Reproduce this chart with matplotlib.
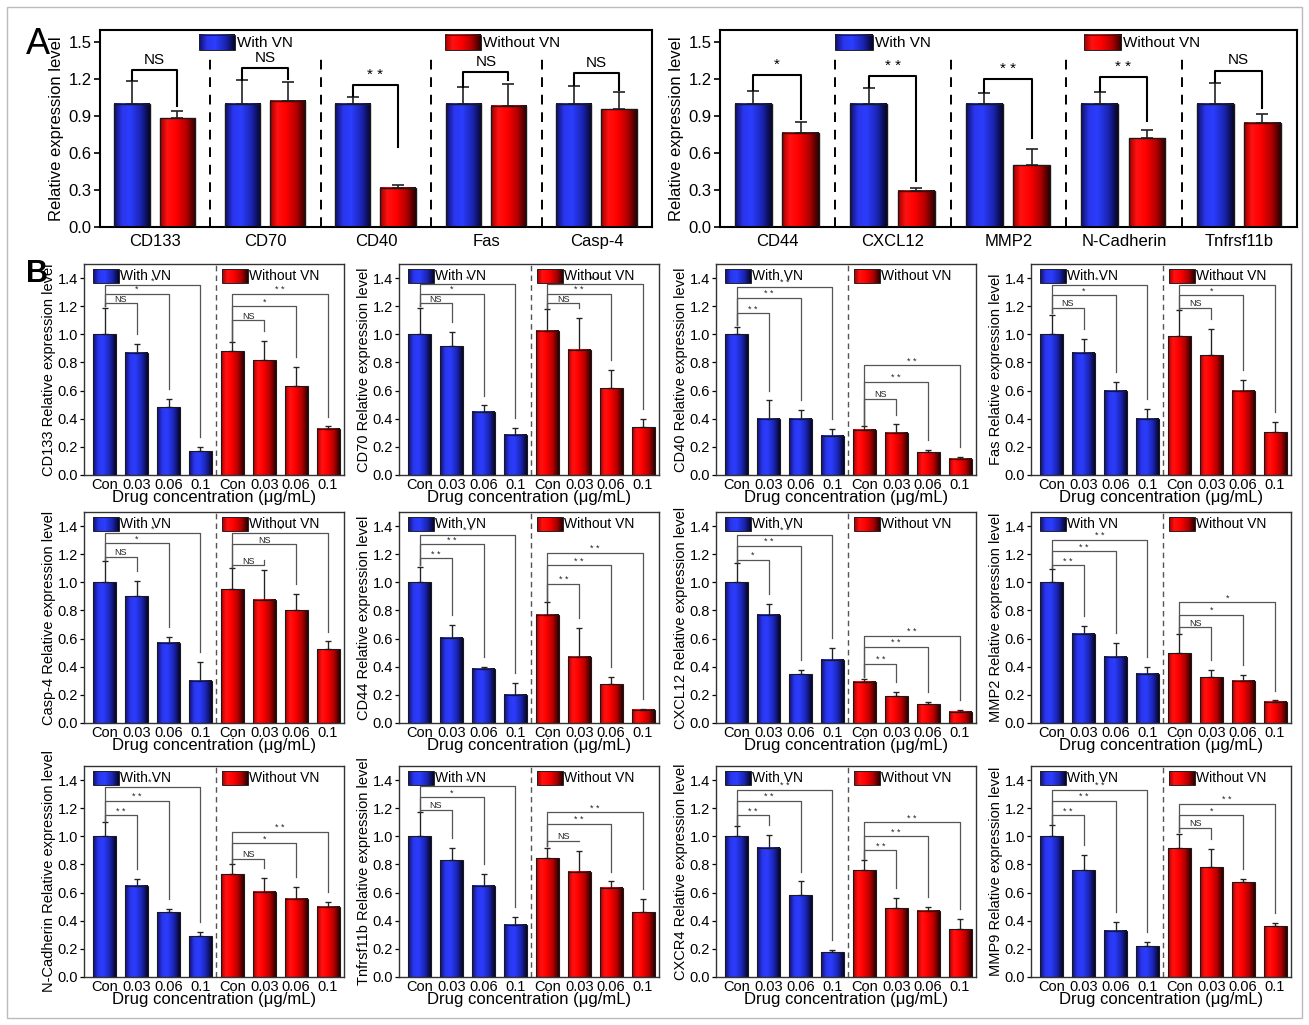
import numpy as np
import matplotlib
matplotlib.use("Agg")
import matplotlib.pyplot as plt
from matplotlib.colors import LinearSegmentedColormap
from matplotlib.patches import Rectangle

plt.rcParams['font.family'] = ['Liberation Sans', 'DejaVu Sans']

W, H = 1309, 1025

# ---------------- panel A ----------------
genes_a_left = ["CD133", "CD70", "CD40", "Fas", "Casp-4"]
with_a_left = [1.0, 1.0, 1.0, 1.0, 1.0]
with_a_left_top = [1.185, 1.19, 1.055, 1.135, 1.145]
without_a_left = [0.885, 1.025, 0.32, 0.985, 0.955]
without_a_left_top = [0.94, 1.18, 0.345, 1.165, 1.095]
sig_a_left = ["NS", "NS", "* *", "NS", "NS"]
sig_a_left_y = [1.276, 1.29, 1.15, 1.257, 1.25]
sig_a_left_end = [0.98, 1.2, 0.65, 1.19, 1.11]

genes_a_right = ["CD44", "CXCL12", "MMP2", "N-Cadherin", "Tnfrsf11b"]
with_a_right = [1.0, 1.0, 1.0, 1.0, 1.0]
with_a_right_top = [1.105, 1.13, 1.09, 1.1, 1.17]
without_a_right = [0.765, 0.295, 0.5, 0.72, 0.845]
without_a_right_top = [0.855, 0.315, 0.63, 0.79, 0.915]
sig_a_right = ["*", "* *", "* *", "* *", "NS"]
sig_a_right_y = [1.236, 1.228, 1.2, 1.215, 1.27]
sig_a_right_end = [0.88, 0.37, 0.72, 0.86, 0.97]

# ---------------- panel B ----------------
conc_labels = ["Con", "0.03", "0.06", "0.1", "Con", "0.03", "0.06", "0.1"]
b_genes = ["CD133", "CD70", "CD40", "Fas",
           "Casp-4", "CD44", "CXCL12", "MMP2",
           "N-Cadherin", "Tnfrsf11b", "CXCR4", "MMP9"]
b_with = [[1.0, 0.87, 0.48, 0.17], [1.0, 0.915, 0.45, 0.285], [1.0, 0.4, 0.4, 0.28], [1.0, 0.87, 0.6, 0.4],
          [1.0, 0.9, 0.57, 0.3], [1.0, 0.605, 0.385, 0.2], [1.0, 0.77, 0.345, 0.45], [1.0, 0.635, 0.47, 0.35],
          [1.0, 0.65, 0.46, 0.29], [1.0, 0.83, 0.65, 0.37], [1.0, 0.92, 0.58, 0.175], [1.0, 0.76, 0.33, 0.22]]
b_with_top = [[1.19, 0.93, 0.54, 0.2], [1.19, 1.02, 0.495, 0.335], [1.055, 0.53, 0.465, 0.33], [1.14, 0.965, 0.66, 0.47],
              [1.15, 1.01, 0.61, 0.435], [1.11, 0.7, 0.4, 0.285], [1.135, 0.845, 0.375, 0.535], [1.095, 0.69, 0.57, 0.4],
              [1.1, 0.695, 0.485, 0.32], [1.17, 0.92, 0.73, 0.43], [1.07, 1.01, 0.68, 0.19], [1.08, 0.87, 0.39, 0.25]]
b_without = [[0.88, 0.815, 0.63, 0.33], [1.025, 0.89, 0.615, 0.34], [0.32, 0.3, 0.16, 0.115], [0.985, 0.85, 0.6, 0.305],
             [0.95, 0.875, 0.8, 0.525], [0.77, 0.47, 0.275, 0.095], [0.295, 0.19, 0.135, 0.08], [0.495, 0.325, 0.3, 0.152],
             [0.73, 0.605, 0.555, 0.5], [0.845, 0.75, 0.635, 0.46], [0.76, 0.49, 0.47, 0.34], [0.915, 0.78, 0.675, 0.36]]
b_without_top = [[0.945, 0.955, 0.77, 0.345], [1.18, 1.115, 0.75, 0.4], [0.345, 0.36, 0.18, 0.13], [1.17, 1.04, 0.675, 0.38],
                 [1.1, 1.09, 0.92, 0.58], [0.86, 0.675, 0.325, 0.1], [0.315, 0.22, 0.15, 0.09], [0.63, 0.38, 0.34, 0.16],
                 [0.8, 0.705, 0.64, 0.535], [0.92, 0.895, 0.68, 0.555], [0.83, 0.56, 0.5, 0.41], [1.02, 0.91, 0.695, 0.385]]
b_with_sig = [["NS", "*", "*"], ["NS", "*", "*"], ["* *", "* *", "* *"], ["NS", "*", "* *"],
              ["NS", "*", "*"], ["* *", "* *", "* *"], ["*", "* *", "* *"], ["* *", "* *", "* *"],
              ["* *", "* *", "* *"], ["NS", "*", "*"], ["* *", "* *", "* *"], ["* *", "* *", "* *"]]
b_with_sig_y = [[1.22, 1.29, 1.35], [1.22, 1.29, 1.36], [1.15, 1.26, 1.34], [1.19, 1.28, 1.35],
                [1.18, 1.28, 1.35], [1.17, 1.27, 1.34], [1.16, 1.26, 1.34], [1.12, 1.22, 1.3],
                [1.15, 1.25, 1.35], [1.19, 1.28, 1.36], [1.15, 1.25, 1.33], [1.15, 1.25, 1.33]]
b_without_sig = [["NS", "*", "* *"], ["NS", "* *", "* *"], ["NS", "* *", "* *"], ["NS", "*", "* *"],
                 ["NS", "NS", "*"], ["* *", "* *", "* *"], ["* *", "* *", "* *"], ["NS", "*", "*"],
                 ["NS", "*", "* *"], ["NS", "* *", "* *"], ["* *", "* *", "* *"], ["NS", "*", "* *"]]
b_without_sig_y = [[1.1, 1.2, 1.29], [1.22, 1.29, 1.36], [0.54, 0.66, 0.78], [1.19, 1.28, 1.35],
                   [1.12, 1.27, 1.35], [0.99, 1.12, 1.21], [0.42, 0.54, 0.62], [0.68, 0.77, 0.86],
                   [0.84, 0.95, 1.03], [0.97, 1.09, 1.17], [0.9, 1.0, 1.1], [1.06, 1.15, 1.23]]

# cylinder-like shading of the bars
blue_cmap = LinearSegmentedColormap.from_list(
    "blue_bar", [(0, "#10106a"), (0.22, "#2a36ec"), (0.45, "#2b3dff"), (0.75, "#1a24b0"), (1, "#05052a")])
red_cmap = LinearSegmentedColormap.from_list(
    "red_bar", [(0, "#a00000"), (0.2, "#ff1212"), (0.45, "#ff0000"), (0.75, "#b00000"), (1, "#2a0000")])
grad = np.linspace(0, 1, 64).reshape(1, -1)


def shaded_bars(ax, x, heights, tops, width, cmap, capsize, lw):
    bars = ax.bar(x, heights, width, facecolor="none", edgecolor="#1a1a1a", lw=lw, zorder=3)
    for b in bars:
        ax.imshow(grad, cmap=cmap, aspect="auto", interpolation="bilinear", zorder=2,
                  extent=[b.get_x(), b.get_x() + b.get_width(), 0, b.get_height()])
    heights = np.array(heights)
    up = np.array(tops) - heights
    ax.errorbar(x, heights, yerr=[np.zeros_like(up), up], fmt="none", ecolor="#222222",
                elinewidth=lw * 1.2, capsize=capsize, capthick=lw * 1.2, zorder=2.5)


def legend_patch(ax, x0, y0, w, h, cmap, label, fs):
    ax.imshow(grad, cmap=cmap, aspect="auto", interpolation="bilinear", zorder=4,
              extent=[x0, x0 + w, y0, y0 + h], transform=ax.transAxes)
    ax.add_patch(Rectangle((x0, y0), w, h, transform=ax.transAxes, fill=False,
                           edgecolor="#222222", lw=0.7, zorder=5))
    ax.text(x0 + w + 0.004, y0 + h / 2, label, transform=ax.transAxes, ha="left", va="center", fontsize=fs)


def panel_a(rect, genes, w_mean, w_top, wo_mean, wo_top, sig, sig_y, sig_end, leg_x):
    ax = fig.add_axes(rect)
    x = np.arange(len(genes))
    shaded_bars(ax, x - 0.21, w_mean, w_top, 0.32, blue_cmap, 4.5, 1.0)
    shaded_bars(ax, x + 0.2, wo_mean, wo_top, 0.32, red_cmap, 4.5, 1.0)
    ax.vlines(x[:-1] + 0.5, 0, 1.42, colors="black", lw=1.4, linestyles=(0, (5, 4)), zorder=1)
    for i in range(len(genes)):
        x0, x1 = i - 0.21, i + 0.2
        ax.plot([x0, x0, x1, x1], [w_top[i] + 0.005, sig_y[i], sig_y[i], sig_end[i]],
                color="black", lw=1.5, zorder=4)
        ax.text((x0 + x1) / 2, sig_y[i] + 0.05, sig[i], ha="center", va="baseline", fontsize=11)
    legend_patch(ax, leg_x[0], 0.898, 0.065, 0.077, blue_cmap, "With VN", 11)
    legend_patch(ax, leg_x[1], 0.898, 0.065, 0.077, red_cmap, "Without VN", 11)
    ax.set_xlim(-0.5, len(genes) - 0.5)
    ax.set_ylim(0, 1.6)
    ax.set_yticks(np.arange(0, 1.51, 0.3))
    ax.set_yticklabels([f"{v:.1f}" for v in np.arange(0, 1.51, 0.3)])
    ax.set_xticks(x)
    ax.set_xticklabels(genes)
    ax.tick_params(axis="x", length=0, labelsize=12, pad=5)
    ax.tick_params(axis="y", length=4, width=1.2, labelsize=12, pad=2)
    ax.set_ylabel("Relative expression level", fontsize=12, labelpad=3)
    for s in ax.spines.values():
        s.set_linewidth(1.5)
    return ax


def sig_brackets(ax, x0, tops, labels, levels):
    start = tops[0] + 0.01
    for k in range(len(labels)):
        x1 = x0 + k + 1
        ax.plot([x0, x0, x1, x1], [start, levels[k], levels[k], tops[k + 1] + 0.07],
                color="#555555", lw=0.9, zorder=4)
        ax.text((x0 + x1) / 2, levels[k] + 0.012, labels[k], ha="center", va="baseline",
                fontsize=6.5, color="#222222")


def panel_b(rect, gene, w_mean, w_top, wo_mean, wo_top, w_sig, w_sig_y, wo_sig, wo_sig_y):
    ax = fig.add_axes(rect)
    xw = np.arange(4)
    xo = np.arange(4, 8)
    shaded_bars(ax, xw, w_mean, w_top, 0.72, blue_cmap, 2.2, 0.8)
    shaded_bars(ax, xo, wo_mean, wo_top, 0.72, red_cmap, 2.2, 0.8)
    ax.axvline(3.5, color="#555555", lw=1.0, ls=(0, (4, 3)), zorder=1)
    sig_brackets(ax, 0, w_top, w_sig, w_sig_y)
    sig_brackets(ax, 4, wo_top, wo_sig, wo_sig_y)
    legend_patch(ax, 0.035, 0.912, 0.1, 0.062, blue_cmap, "With VN", 10)
    legend_patch(ax, 0.53, 0.912, 0.1, 0.062, red_cmap, "Without VN", 10)
    ax.set_xlim(-0.65, 7.5)
    ax.set_ylim(0, 1.5)
    ax.set_yticks(np.arange(0, 1.41, 0.2))
    ax.set_yticklabels([f"{v:.1f}" for v in np.arange(0, 1.41, 0.2)])
    ax.set_xticks(np.arange(8))
    ax.set_xticklabels(conc_labels)
    ax.tick_params(axis="x", length=0, labelsize=10.5, pad=2)
    ax.tick_params(axis="y", length=3, width=0.9, labelsize=10.5, pad=1.5)
    ax.set_xlabel("Drug concentration (\u03bcg/mL)", fontsize=12, labelpad=-1)
    ax.set_ylabel(f"{gene} Relative expression level", fontsize=10.5, labelpad=1)
    for s in ax.spines.values():
        s.set_linewidth(1.0)
        s.set_color("#333333")
    return ax


fig = plt.figure(figsize=(W / 100, H / 100), dpi=100)

# thin frame around the whole figure
fig.add_artist(Rectangle((7 / W, 7 / H), 1 - 14 / W, 1 - 14 / H, transform=fig.transFigure,
                         fill=False, edgecolor="#bbbbbb", lw=1))

panel_a([100 / W, 1 - 227 / H, 552 / W, 197 / H], genes_a_left, with_a_left, with_a_left_top,
        without_a_left, without_a_left_top, sig_a_left, sig_a_left_y, sig_a_left_end, (0.18, 0.625))
panel_a([720 / W, 1 - 227 / H, 577 / W, 197 / H], genes_a_right, with_a_right, with_a_right_top,
        without_a_right, without_a_right_top, sig_a_right, sig_a_right_y, sig_a_right_end, (0.2, 0.63))

col_left = [84, 399, 716, 1031]
row_bottom = [475, 723, 977]
for idx, gene in enumerate(b_genes):
    r, c = divmod(idx, 4)
    rect = [col_left[c] / W, 1 - row_bottom[r] / H, 260 / W, 211 / H]
    panel_b(rect, gene, b_with[idx], b_with_top[idx], b_without[idx], b_without_top[idx],
            b_with_sig[idx], b_with_sig_y[idx], b_without_sig[idx], b_without_sig_y[idx])

fig.text(26 / W, 1 - 44 / H, "A", fontsize=26, ha="left", va="center")
fig.text(26 / W, 1 - 274 / H, "B", fontsize=22, fontweight="bold", ha="left", va="center")

fig.savefig("out.png", dpi=100)
